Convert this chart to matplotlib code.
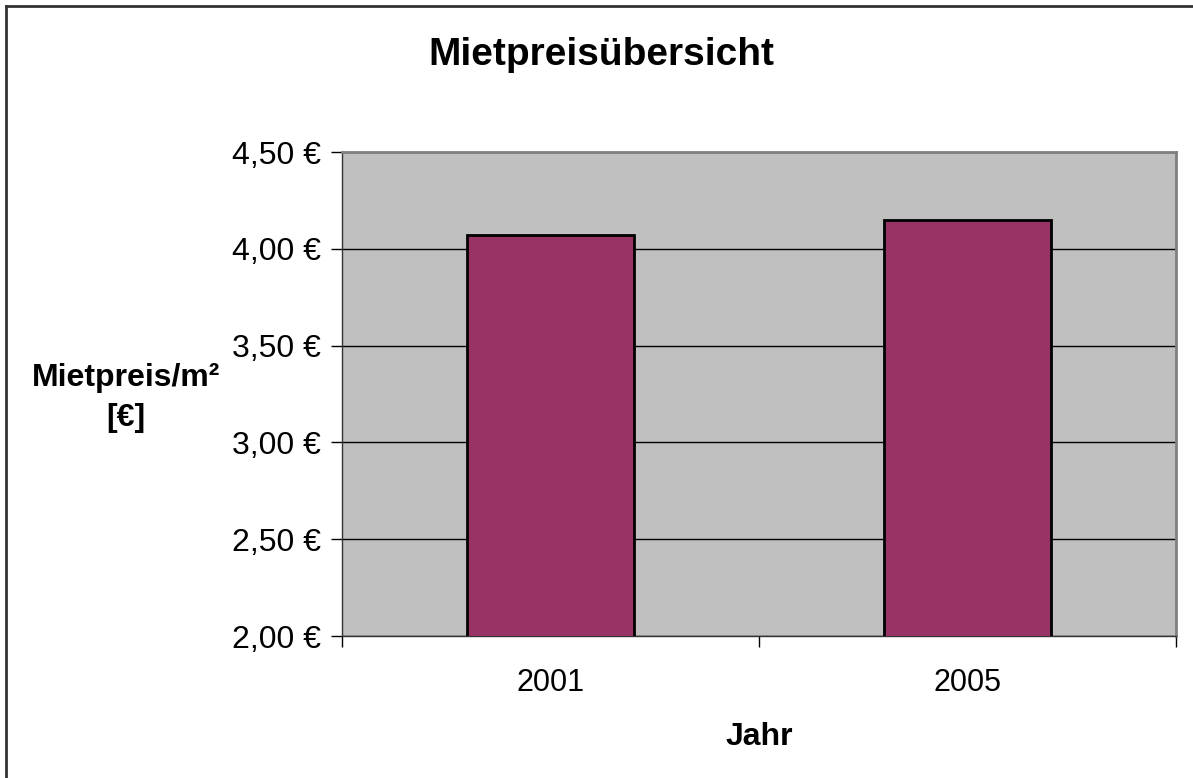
import matplotlib.pyplot as plt
from matplotlib.lines import Line2D
from matplotlib.ticker import FuncFormatter

# --- data ---
years = ["2001", "2005"]
prices = [4.07, 4.15]
y_ticks = [2.0, 2.5, 3.0, 3.5, 4.0, 4.5]

plt.rcParams['font.family'] = ['Liberation Sans', 'DejaVu Sans']

W, H = 1193, 778
fig = plt.figure(figsize=(W / 100, H / 100), dpi=100)
fig.patch.set_facecolor("white")

# outer chart frame: only the left and top edges fall inside the picture
fig.add_artist(Line2D([6 / W, 6 / W], [0, 1 - 6 / H], transform=fig.transFigure,
                      color="#333333", linewidth=2))
fig.add_artist(Line2D([6 / W, 1], [1 - 6 / H, 1 - 6 / H], transform=fig.transFigure,
                      color="#333333", linewidth=2))

# plot area in pixel coordinates
left, right, top, bottom = 342, 1176, 152, 636
ax = fig.add_axes([left / W, 1 - bottom / H, (right - left) / W, (bottom - top) / H])
ax.set_facecolor("#C0C0C0")

x = range(len(years))
ax.bar(x, prices, width=0.4, color="#993366", edgecolor="black", linewidth=2,
       zorder=3)

ax.set_xlim(-0.5, len(years) - 0.5)
ax.set_ylim(2.0, 4.5)
ax.set_yticks(y_ticks)
ax.yaxis.set_major_formatter(FuncFormatter(lambda v, p: f"{v:.2f} €".replace(".", ",")))
ax.yaxis.grid(True, color="black", linewidth=1, zorder=1)
ax.set_axisbelow(True)

# category labels between boundary tick marks
ax.set_xticks([i - 0.5 for i in range(len(years) + 1)])
ax.set_xticklabels([])
ax.set_xticks(list(x), minor=True)
ax.set_xticklabels(years, minor=True)
ax.tick_params(axis="x", which="minor", length=0, pad=23, labelsize=22)
ax.tick_params(axis="x", which="major", length=8, width=1, direction="out")
ax.tick_params(axis="y", length=8, width=1, direction="out", labelsize=23, pad=7)

for s in ["top", "right"]:
    ax.spines[s].set_color("#808080")
    ax.spines[s].set_linewidth(2)
ax.spines["left"].set_linewidth(1)
ax.spines["bottom"].set_linewidth(1)
ax.spines["left"].set_color("#333333")
ax.spines["bottom"].set_color("#333333")

fig.text(601 / W, 1 - 55 / H, "Mietpreisübersicht", ha="center", va="center",
         fontsize=28, fontweight="bold")
fig.text(126 / W, 1 - 398 / H, "Mietpreis/m²\n[€]", ha="center", va="center",
         fontsize=23, fontweight="bold", linespacing=1.45)
fig.text(759 / W, 1 - 737 / H, "Jahr", ha="center", va="center",
         fontsize=23, fontweight="bold")

fig.savefig("out.png", dpi=100)
